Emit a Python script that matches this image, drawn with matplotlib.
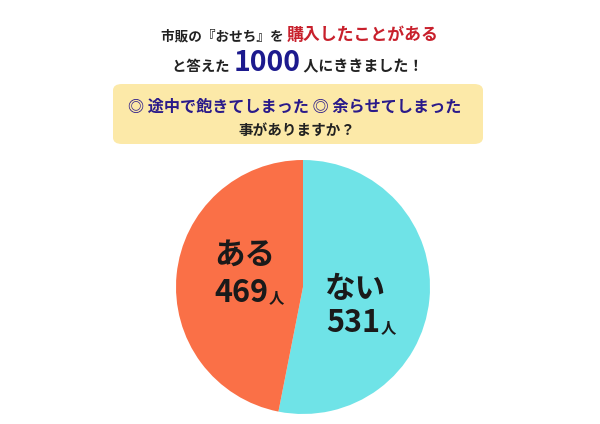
import matplotlib
matplotlib.use("Agg")
import matplotlib.pyplot as plt
from matplotlib.patches import FancyBboxPatch

plt.rcParams['font.family'] = ['Noto Sans CJK JP', 'DejaVu Sans']

labels = ["ない", "ある"]
values = [531, 469]
colors = ["#6fe3e7", "#fa7047"]
unit = "人"

title1 = [("市販の『おせち』を ", 9.8, "#222222"), ("購入したことがある", 12.2, "#c8202c")]
title2 = [("と答えた ", 10.4, "#222222"), ("1000", 20.5, "#1c1a8e"), (" 人にききました！", 10.8, "#222222")]
q1 = [("◎ 途中で飽きてしまった ◎ 余らせてしまった", 11.6, "#2a1a8a")]
q2 = [("事がありますか？", 10.5, "#222222")]

W, H = 600, 424
fig = plt.figure(figsize=(W / 100, H / 100), dpi=100)
fig.patch.set_facecolor("white")
renderer = fig.canvas.get_renderer()


def draw_runs(cx, baseline, runs):
    widths = []
    for s, fs, c in runs:
        t = fig.text(0, 0, s, fontsize=fs, fontweight='bold')
        widths.append(t.get_window_extent(renderer).width)
        t.remove()
    x = cx - sum(widths) / 2
    for (s, fs, c), w in zip(runs, widths):
        fig.text(x / W, 1 - baseline / H, s, fontsize=fs, fontweight='bold',
                 color=c, ha='left', va='baseline')
        x += w


# question box
box = FancyBboxPatch((113 / W, 1 - 144 / H), 370 / W, 60 / H,
                     boxstyle="round,pad=0,rounding_size=0.015",
                     transform=fig.transFigure, facecolor="#fce9a8",
                     edgecolor="none", zorder=0)
fig.patches.append(box)

draw_runs(300, 40, title1)
draw_runs(298, 71, title2)
draw_runs(295, 112, q1)
draw_runs(297, 135, q2)

# pie
cx, cy, r = 303, 287, 127
ax = fig.add_axes([(cx - r) / W, (H - cy - r) / H, 2 * r / W, 2 * r / H])
ax.pie(values, colors=colors, startangle=90, counterclock=False,
       wedgeprops=dict(linewidth=0))
ax.set_xlim(-1, 1)
ax.set_ylim(-1, 1)
ax.axis('off')

# slice labels
draw_runs(355, 298, [(labels[0], 22, "#1a1a1a")])
draw_runs(361, 332, [(str(values[0]), 22, "#1a1a1a"), (unit, 11, "#1a1a1a")])
draw_runs(245, 264, [(labels[1], 22, "#1a1a1a")])
draw_runs(249, 302, [(str(values[1]), 22, "#1a1a1a"), (unit, 11, "#1a1a1a")])

fig.savefig("out.png", dpi=100)
